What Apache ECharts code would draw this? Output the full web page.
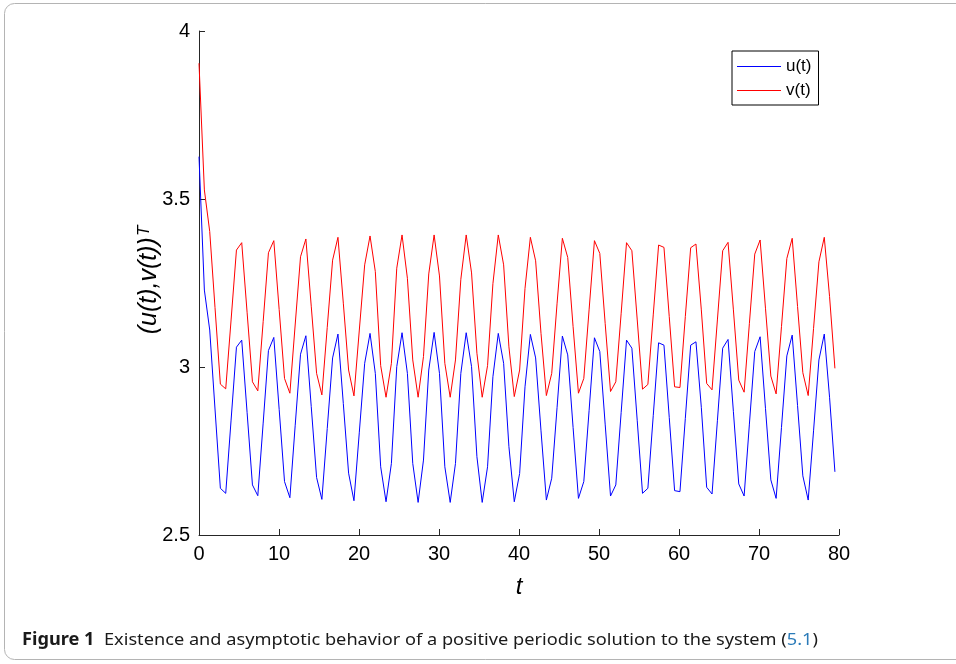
<!DOCTYPE html>
<html>
<head>
<meta charset="utf-8">
<script src="https://cdn.jsdelivr.net/npm/echarts@6/dist/echarts.min.js"></script>
<style>html,body{margin:0;padding:0;background:#fff}#c{width:956px;height:664px}</style>
</head>
<body>
<div id="c"></div>
<script>
// time samples
const tValues = [0,0.67,1.34,2.00,2.67,3.34,4.01,4.68,5.34,6.01,6.68,7.35,8.02,8.68,9.35,10.02,10.69,11.36,12.02,12.69,13.36,14.03,14.70,15.36,16.03,16.70,17.37,18.04,18.70,19.37,20.04,20.71,21.38,22.04,22.71,23.38,24.05,24.72,25.38,26.05,26.72,27.39,28.06,28.72,29.39,30.06,30.73,31.40,32.06,32.73,33.40,34.07,34.74,35.40,36.07,36.74,37.41,38.08,38.74,39.41,40.08,40.75,41.42,42.08,42.75,43.42,44.09,44.76,45.42,46.09,46.76,47.43,48.10,48.76,49.43,50.10,50.77,51.44,52.10,52.77,53.44,54.11,54.78,55.44,56.11,56.78,57.45,58.12,58.78,59.45,60.12,60.79,61.46,62.12,62.79,63.46,64.13,64.80,65.46,66.13,66.80,67.47,68.14,68.80,69.47,70.14,70.81,71.48,72.14,72.81,73.48,74.15,74.82,75.48,76.15,76.82,77.49,78.16,78.82,79.49];
const uValues = [3.626,3.229,3.110,2.875,2.639,2.624,2.842,3.059,3.080,2.865,2.649,2.617,2.833,3.049,3.088,2.874,2.659,2.611,2.825,3.038,3.093,2.882,2.671,2.606,2.817,3.027,3.098,2.891,2.684,2.602,2.806,3.011,3.100,2.981,2.703,2.599,2.713,3.001,3.102,2.981,2.713,2.597,2.723,2.991,3.103,2.981,2.703,2.597,2.713,2.981,3.102,3.001,2.733,2.597,2.703,2.971,3.100,3.011,2.763,2.599,2.683,2.941,3.097,3.027,2.81,2.604,2.669,2.88,3.092,3.036,2.82,2.609,2.659,2.87,3.087,3.046,2.83,2.616,2.649,2.865,3.080,3.056,2.84,2.624,2.639,2.855,3.072,3.065,2.85,2.632,2.629,2.847,3.065,3.075,2.88,2.642,2.622,2.84,3.056,3.082,2.867,2.652,2.616,2.83,3.046,3.090,2.877,2.664,2.609,2.82,3.033,3.095,2.885,2.676,2.604,2.81,3.021,3.098,2.91,2.688];
const vValues = [3.904,3.527,3.403,3.177,2.949,2.935,3.14,3.348,3.370,3.163,2.956,2.929,3.135,3.340,3.376,3.171,2.966,2.922,3.125,3.328,3.381,3.181,2.981,2.917,3.118,3.318,3.386,3.19,2.991,2.914,3.11,3.304,3.390,3.284,3.004,2.910,3.011,3.294,3.393,3.264,3.021,2.910,3.031,3.277,3.393,3.271,3.011,2.910,3.021,3.261,3.393,3.280,3.041,2.910,3.004,3.248,3.393,3.304,3.060,2.912,2.991,3.234,3.386,3.316,3.10,2.915,2.981,3.19,3.383,3.326,3.12,2.922,2.966,3.17,3.376,3.338,3.13,2.927,2.956,3.16,3.370,3.346,3.14,2.934,2.948,3.155,3.363,3.356,3.15,2.941,2.939,3.15,3.355,3.366,3.17,2.951,2.932,3.14,3.346,3.371,3.17,2.961,2.925,3.13,3.336,3.378,3.175,2.973,2.920,3.12,3.323,3.383,3.18,2.983,2.915,3.115,3.313,3.386,3.21,2.996];
const seriesNames = ['u(t)', 'v(t)'];
const xTicks = {min: 0, max: 80, interval: 10};
const yTicks = {min: 2.5, max: 4, interval: 0.5};
const yTitleMain = '(u(t),v(t))';
const yTitleSup = 'T';
const captionBold = 'Figure 1';
const captionText = '  Existence and asymptotic behavior of a positive periodic solution to the system (';
const captionRef = '5.1';

const FONT = 'Liberation Sans';
const axisCol = '#262626';
const chart = echarts.init(document.getElementById('c'), null, {renderer: 'canvas'});
const pair = arr => tValues.map((t, i) => [t, arr[i]]);
chart.setOption({
  animation: false,
  backgroundColor: '#fff',
  grid: {left: 199, top: 31, width: 640, height: 504, containLabel: false},
  legend: {
    orient: 'vertical', left: 732, top: 51,
    padding: [7, 7, 6, 5],
    borderColor: '#000', borderWidth: 1, backgroundColor: '#fff',
    icon: 'rect', itemWidth: 44, itemHeight: 1, itemGap: 7,
    textStyle: {fontFamily: FONT, fontSize: 17, color: '#000'},
    data: seriesNames
  },
  xAxis: {
    type: 'value', min: xTicks.min, max: xTicks.max, interval: xTicks.interval,
    name: 't', nameLocation: 'middle', nameGap: 40,
    nameTextStyle: {fontFamily: FONT, fontSize: 24, fontStyle: 'italic', color: '#000'},
    axisLine: {lineStyle: {color: axisCol, width: 1}},
    axisTick: {inside: true, length: 6, lineStyle: {color: axisCol}},
    axisLabel: {fontFamily: FONT, fontSize: 20, color: '#000', margin: 9},
    splitLine: {show: false}
  },
  yAxis: {
    type: 'value', min: yTicks.min, max: yTicks.max, interval: yTicks.interval,
    axisLine: {show: true, lineStyle: {color: axisCol, width: 1}},
    axisTick: {show: true, inside: true, length: 6, lineStyle: {color: axisCol}},
    axisLabel: {fontFamily: FONT, fontSize: 20, color: '#000', margin: 9},
    splitLine: {show: false}
  },
  series: [
    {name: seriesNames[0], type: 'line', data: pair(uValues), symbol: 'none', showSymbol: false,
     lineStyle: {color: '#0000ff', width: 1}, itemStyle: {color: '#0000ff'}},
    {name: seriesNames[1], type: 'line', data: pair(vValues), symbol: 'none', showSymbol: false,
     lineStyle: {color: '#ff0000', width: 1}, itemStyle: {color: '#ff0000'}}
  ],
  graphic: [
    {type: 'rect', shape: {x: 4.5, y: 3.5, width: 1000, height: 656, r: 10},
     style: {fill: 'none', stroke: '#b4b4b4', lineWidth: 1}, silent: true, z: -1},
    {type: 'text', x: 149, y: 280, rotation: Math.PI / 2,
     style: {
       x: 0, y: 0, align: 'center', verticalAlign: 'middle',
       text: '{a|' + yTitleMain + '}{b|' + yTitleSup + '}',
       rich: {
         a: {fontFamily: FONT, fontSize: 25, fontStyle: 'italic', fill: '#000', lineHeight: 26, verticalAlign: 'bottom'},
         b: {fontFamily: FONT, fontSize: 17, fontStyle: 'italic', fill: '#000', lineHeight: 26, verticalAlign: 'top', padding: [0, 0, 0, 1]}
       }
     }},
    {type: 'text', x: 22, y: 640, scaleX: 1.07, originX: 0, originY: 0,
     style: {
       x: 0, y: 0, verticalAlign: 'middle', align: 'left',
       text: '{b|' + captionBold + '}{n|' + captionText + '}{l|' + captionRef + '}{n|)}',
       rich: {
         b: {fontFamily: 'Noto Sans', fontSize: 17, fontWeight: 'bold', fill: '#1a1a1a'},
         n: {fontFamily: 'Noto Sans', fontSize: 17, fill: '#1a1a1a'},
         l: {fontFamily: 'Noto Sans', fontSize: 17, fill: '#2b7bb9'}
       }
     }}
  ]
});
</script>
</body>
</html>
